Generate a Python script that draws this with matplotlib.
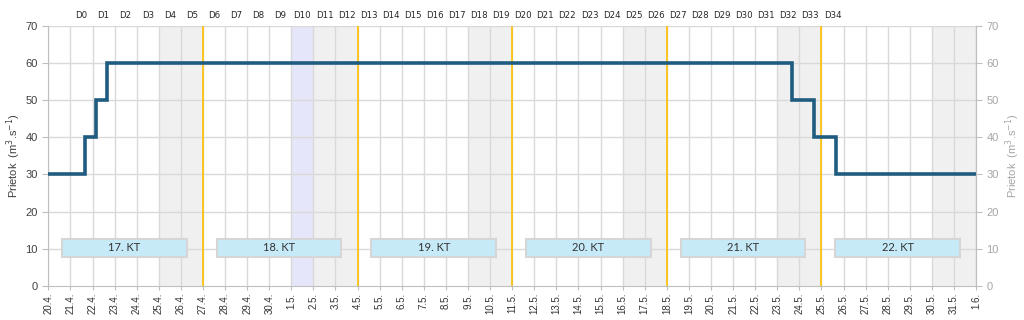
import pandas as pd
import matplotlib
matplotlib.use('Agg')
import matplotlib.pyplot as plt
from matplotlib.patches import Rectangle

# dni od 20.4. (den 0) do 1.6. (den 42)
dates = pd.date_range('2020-04-20', '2020-06-01', freq='D')
date_labels = [f'{d.day}.{d.month}.' for d in dates]

# prietok - schodovity priebeh (den, hodnota)
flow_day = [0, 1.67, 2.17, 2.67, 33.67, 34.67, 35.67, 42]
flow_val = [30, 40, 50, 60, 50, 40, 30, 30]

# vikendy a sviatok (zaciatok dna)
weekend_days = [5, 12, 19, 26, 33, 40]
holiday_days = [11]

# hranice kalendarnych tyzdnov (zlta ciara)
week_lines = [7, 14, 21, 28, 35]

# kalendarne tyzdne
kt_labels = ['17. KT', '18. KT', '19. KT', '20. KT', '21. KT', '22. KT']
kt_start = [0, 7, 14, 21, 28, 35]

# oznacenie dni D0..D34
d_labels = ['D%d' % i for i in range(35)]
d_pos = [i + 1.5 for i in range(35)]

LINE = '#1f5c80'
GRID = '#d9d9d9'
AXC = '#bfbfbf'


def main():
    fig = plt.figure(figsize=(10.24, 3.2), dpi=100)
    ax = fig.add_axes([0.0472, 0.107, 0.906, 0.8116])

    # pozadie - vikendy, sviatok
    for d in weekend_days:
        ax.axvspan(d, d + 2, color='#f0f0f0', lw=0, zorder=0)
    for d in holiday_days:
        ax.axvspan(d, d + 1, color='#e6e6fa', lw=0, zorder=0)

    # mriezka
    for i in range(len(dates)):
        ax.axvline(i, color=GRID, lw=1, zorder=1)
    for v in range(10, 80, 10):
        ax.axhline(v, color=GRID, lw=1, zorder=1)

    for d in week_lines:
        ax.axvline(d, color='#ffc000', lw=1.2, zorder=2)

    # boxy KT
    for lab, s in zip(kt_labels, kt_start):
        ax.add_patch(Rectangle((s + 0.62, 7.85), 5.65, 4.8, facecolor='#c7eaf8',
                               edgecolor='#d6d6d6', lw=1.5, zorder=3))
        ax.text(s + 3.45, 10.25, lab, ha='center', va='center', fontsize=8,
                family=['Lato', 'DejaVu Sans'], color='#333333', zorder=4)

    ax.plot(flow_day, flow_val, drawstyle='steps-post', color=LINE, lw=2.6,
            zorder=5, solid_joinstyle='miter')

    ax.set_xlim(0, len(dates) - 1)
    ax.set_ylim(0, 70)
    ax.set_xticks(range(len(dates)))
    ax.set_xticklabels(date_labels, rotation=90, fontsize=7,
                       family='Liberation Sans', color='#333333')
    ax.set_yticks(range(0, 80, 10))
    ax.tick_params(axis='y', labelsize=8, colors=AXC, labelcolor='#404040',
                   length=4, direction='out')
    ax.tick_params(axis='x', colors=AXC, labelcolor='#333333', length=3,
                   direction='out', pad=2)
    for lab in ax.get_yticklabels():
        lab.set_family('Liberation Sans')
    ax.set_ylabel('Prietok  (m$^3$.s$^{-1}$)', fontsize=8, color='#404040',
                  family='Liberation Sans', labelpad=2)

    ax.spines['top'].set_visible(False)
    for side in ['left', 'bottom', 'right']:
        ax.spines[side].set_color(AXC)

    # prava os
    ax2 = ax.twinx()
    ax2.set_ylim(0, 70)
    ax2.set_yticks(range(0, 80, 10))
    ax2.tick_params(axis='y', labelsize=8, colors=AXC, labelcolor='#a6a6a6',
                    length=4)
    for lab in ax2.get_yticklabels():
        lab.set_family('Liberation Sans')
    ax2.set_ylabel('Prietok  (m$^3$.s$^{-1}$)', fontsize=8, color='#a6a6a6',
                   family='Liberation Sans', labelpad=3)
    for side in ['top', 'left', 'bottom']:
        ax2.spines[side].set_visible(False)
    ax2.spines['right'].set_color(AXC)

    # horna os s D oznacenim
    ax3 = ax.twiny()
    ax3.set_xlim(0, len(dates) - 1)
    ax3.set_xticks(d_pos)
    ax3.set_xticklabels(d_labels, fontsize=6.2,
                        family=['Liberation Sans Narrow', 'DejaVu Sans'],
                        color='#262626')
    ax3.tick_params(axis='x', length=0, pad=4)
    for side in ax3.spines:
        ax3.spines[side].set_visible(False)

    fig.savefig('out.png', dpi=100)


main()
